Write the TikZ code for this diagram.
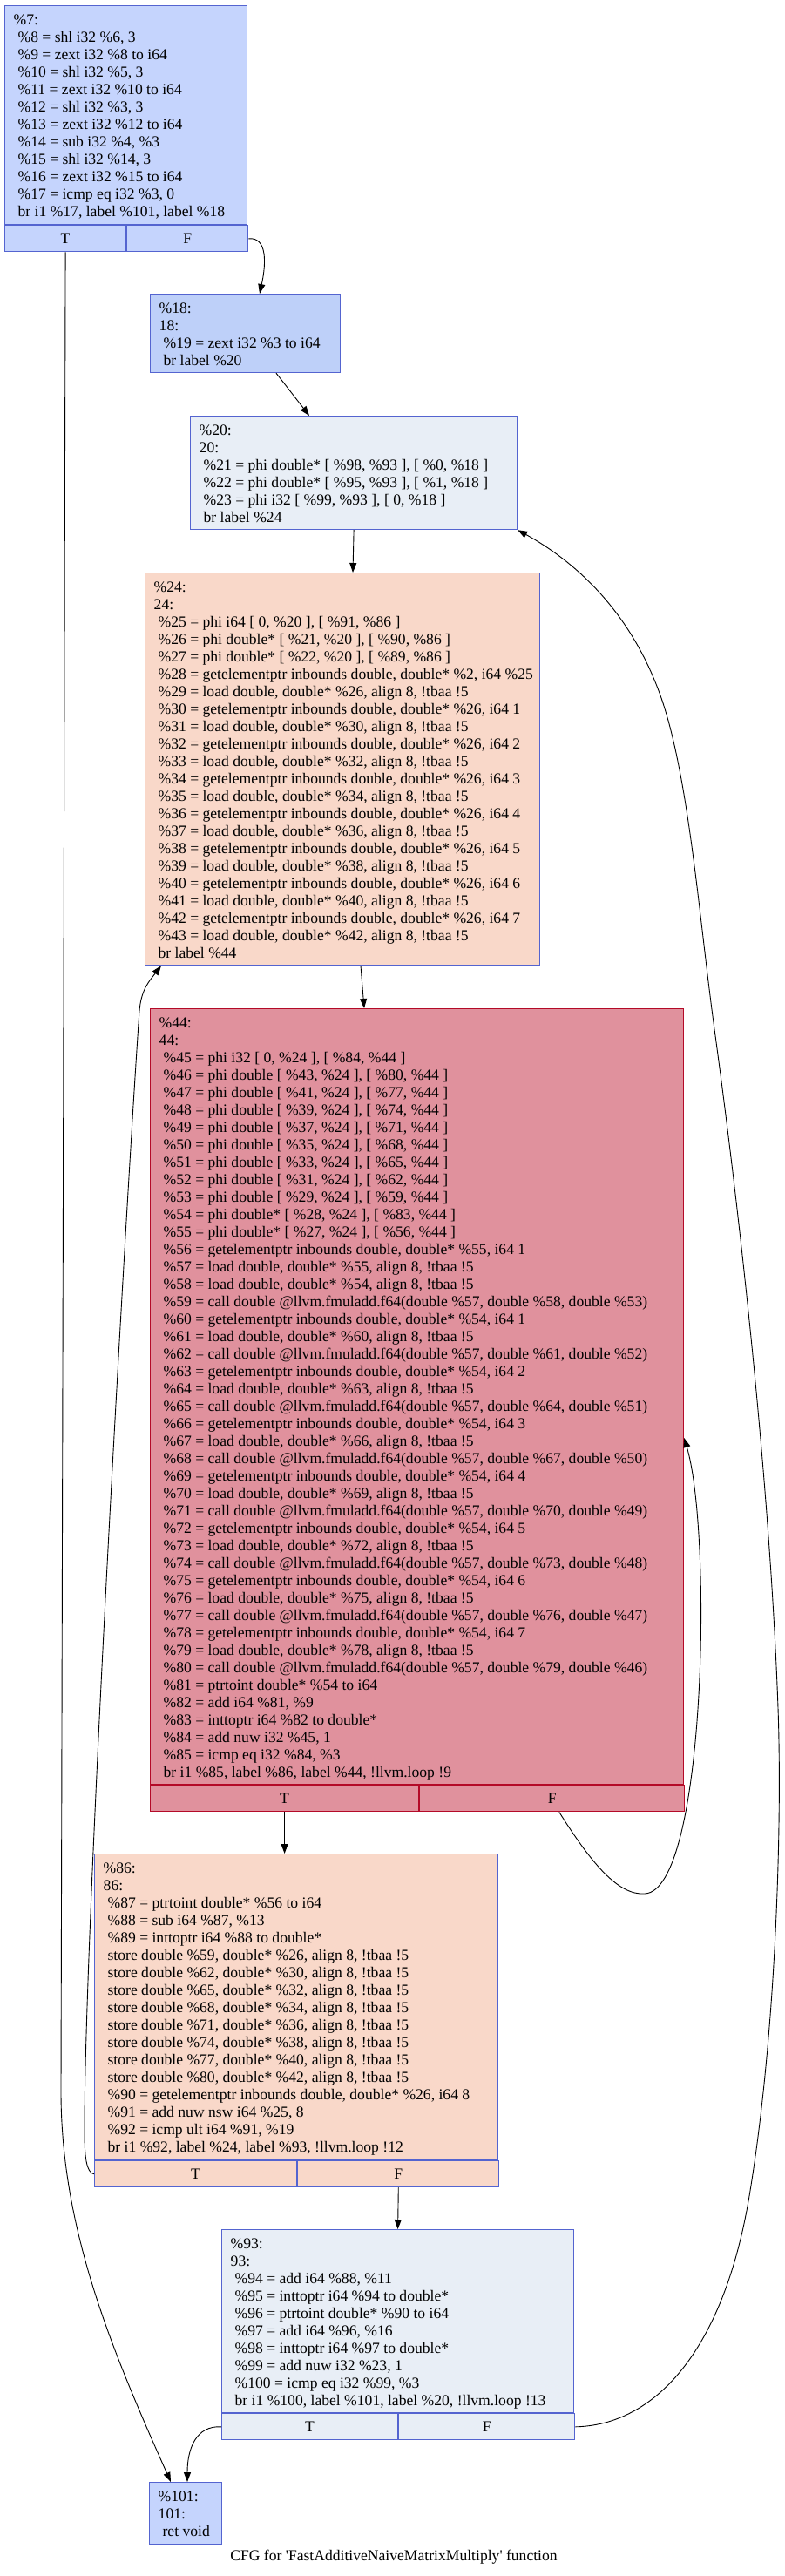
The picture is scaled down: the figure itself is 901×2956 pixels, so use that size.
\documentclass[tikz,border=0pt]{standalone}
\usepackage{fontspec}
\setmainfont{Liberation Serif}
\usepackage{tikz}
\usetikzlibrary{arrows.meta,calc}

\definecolor{coldblue}{RGB}{197,212,253}
\definecolor{coolblue}{RGB}{190,208,249}
\definecolor{paleblue}{RGB}{232,238,246}
\definecolor{peach}{RGB}{249,216,201}
\definecolor{hotrose}{RGB}{224,145,157}
\definecolor{lineblue}{RGB}{84,100,208}
\definecolor{linered}{RGB}{180,10,40}

\newcommand{\codefont}{\fontsize{17.6}{20}\selectfont}
\newcommand{\ind}{\hspace*{0.28em}}

\tikzset{
  block/.style={draw=lineblue, line width=1.2pt, inner sep=0pt, anchor=north west},
  code/.style={anchor=north west, inner sep=0pt, align=left, font=\codefont},
  cell/.style={block, minimum height=30pt, font=\codefont},
  edge/.style={line width=0.9pt, -{Triangle[length=11pt,width=8pt]}}
}

\begin{document}
\begin{tikzpicture}[x=1pt, y=-1pt]
	\useasboundingbox (0,0) rectangle (901,2956);

	% Boxes
	\node[block, fill=coldblue, minimum width=278pt, minimum height=251pt] (b7) at (5,6) {};
	\node[cell, fill=coldblue, minimum width=139pt] (b7T) at (b7.south west) {T};
	\node[cell, fill=coldblue, minimum width=139pt] (b7F) at (b7T.north east) {F};

	\node[block, fill=coolblue, minimum width=218pt, minimum height=90pt] (b18) at (172,337) {};
	\node[block, fill=paleblue, minimum width=375pt, minimum height=130pt] (b20) at (218,477) {};
	\node[block, fill=peach, minimum width=453pt, minimum height=450pt] (b24) at (166,657) {};

	\node[block, draw=linered, fill=hotrose, minimum width=612pt, minimum height=890pt] (b44) at (172,1157) {};
	\node[cell, draw=linered, fill=hotrose, minimum width=308pt] (b44T) at (b44.south west) {T};
	\node[cell, draw=linered, fill=hotrose, minimum width=304pt] (b44F) at (b44T.north east) {F};

	\node[block, fill=peach, minimum width=463pt, minimum height=351pt] (b86) at (108,2127) {};
	\node[cell, fill=peach, minimum width=232pt] (b86T) at (b86.south west) {T};
	\node[cell, fill=peach, minimum width=231pt] (b86F) at (b86T.north east) {F};

	\node[block, fill=paleblue, minimum width=404pt, minimum height=210pt] (b93) at (254,2558) {};
	\node[cell, fill=paleblue, minimum width=202pt] (b93T) at (b93.south west) {T};
	\node[cell, fill=paleblue, minimum width=202pt] (b93F) at (b93T.north east) {F};

	\node[block, fill=coldblue, minimum width=83pt, minimum height=71pt] (b101) at (171,2848) {};

	% code
	\node[code] (b7txt) at ($(b7.north west)+(10.5,10.2)$) {\%7:\\
		\ind\%8 = shl i32 \%6, 3\\
		\ind\%9 = zext i32 \%8 to i64\\
		\ind\%10 = shl i32 \%5, 3\\
		\ind\%11 = zext i32 \%10 to i64\\
		\ind\%12 = shl i32 \%3, 3\\
		\ind\%13 = zext i32 \%12 to i64\\
		\ind\%14 = sub i32 \%4, \%3\\
		\ind\%15 = shl i32 \%14, 3\\
		\ind\%16 = zext i32 \%15 to i64\\
		\ind\%17 = icmp eq i32 \%3, 0\\
		\ind br i1 \%17, label \%101, label \%18};

	\node[code] (b18txt) at ($(b18.north west)+(10.5,10.2)$) {\%18:\\
		18:\\
		\ind\%19 = zext i32 \%3 to i64\\
		\ind br label \%20};

	\node[code] (b20txt) at ($(b20.north west)+(10.5,10.2)$) {\%20:\\
		20:\\
		\ind\%21 = phi double* [ \%98, \%93 ], [ \%0, \%18 ]\\
		\ind\%22 = phi double* [ \%95, \%93 ], [ \%1, \%18 ]\\
		\ind\%23 = phi i32 [ \%99, \%93 ], [ 0, \%18 ]\\
		\ind br label \%24};

	\node[code] (b24txt) at ($(b24.north west)+(10.5,10.2)$) {\%24:\\
		24:\\
		\ind\%25 = phi i64 [ 0, \%20 ], [ \%91, \%86 ]\\
		\ind\%26 = phi double* [ \%21, \%20 ], [ \%90, \%86 ]\\
		\ind\%27 = phi double* [ \%22, \%20 ], [ \%89, \%86 ]\\
		\ind\%28 = getelementptr inbounds double, double* \%2, i64 \%25\\
		\ind\%29 = load double, double* \%26, align 8, !tbaa !5\\
		\ind\%30 = getelementptr inbounds double, double* \%26, i64 1\\
		\ind\%31 = load double, double* \%30, align 8, !tbaa !5\\
		\ind\%32 = getelementptr inbounds double, double* \%26, i64 2\\
		\ind\%33 = load double, double* \%32, align 8, !tbaa !5\\
		\ind\%34 = getelementptr inbounds double, double* \%26, i64 3\\
		\ind\%35 = load double, double* \%34, align 8, !tbaa !5\\
		\ind\%36 = getelementptr inbounds double, double* \%26, i64 4\\
		\ind\%37 = load double, double* \%36, align 8, !tbaa !5\\
		\ind\%38 = getelementptr inbounds double, double* \%26, i64 5\\
		\ind\%39 = load double, double* \%38, align 8, !tbaa !5\\
		\ind\%40 = getelementptr inbounds double, double* \%26, i64 6\\
		\ind\%41 = load double, double* \%40, align 8, !tbaa !5\\
		\ind\%42 = getelementptr inbounds double, double* \%26, i64 7\\
		\ind\%43 = load double, double* \%42, align 8, !tbaa !5\\
		\ind br label \%44};

	\node[code] (b44txt) at ($(b44.north west)+(10.5,10.2)$) {\%44:\\
		44:\\
		\ind\%45 = phi i32 [ 0, \%24 ], [ \%84, \%44 ]\\
		\ind\%46 = phi double [ \%43, \%24 ], [ \%80, \%44 ]\\
		\ind\%47 = phi double [ \%41, \%24 ], [ \%77, \%44 ]\\
		\ind\%48 = phi double [ \%39, \%24 ], [ \%74, \%44 ]\\
		\ind\%49 = phi double [ \%37, \%24 ], [ \%71, \%44 ]\\
		\ind\%50 = phi double [ \%35, \%24 ], [ \%68, \%44 ]\\
		\ind\%51 = phi double [ \%33, \%24 ], [ \%65, \%44 ]\\
		\ind\%52 = phi double [ \%31, \%24 ], [ \%62, \%44 ]\\
		\ind\%53 = phi double [ \%29, \%24 ], [ \%59, \%44 ]\\
		\ind\%54 = phi double* [ \%28, \%24 ], [ \%83, \%44 ]\\
		\ind\%55 = phi double* [ \%27, \%24 ], [ \%56, \%44 ]\\
		\ind\%56 = getelementptr inbounds double, double* \%55, i64 1\\
		\ind\%57 = load double, double* \%55, align 8, !tbaa !5\\
		\ind\%58 = load double, double* \%54, align 8, !tbaa !5\\
		\ind\%59 = call double @llvm.fmuladd.f64(double \%57, double \%58, double \%53)\\
		\ind\%60 = getelementptr inbounds double, double* \%54, i64 1\\
		\ind\%61 = load double, double* \%60, align 8, !tbaa !5\\
		\ind\%62 = call double @llvm.fmuladd.f64(double \%57, double \%61, double \%52)\\
		\ind\%63 = getelementptr inbounds double, double* \%54, i64 2\\
		\ind\%64 = load double, double* \%63, align 8, !tbaa !5\\
		\ind\%65 = call double @llvm.fmuladd.f64(double \%57, double \%64, double \%51)\\
		\ind\%66 = getelementptr inbounds double, double* \%54, i64 3\\
		\ind\%67 = load double, double* \%66, align 8, !tbaa !5\\
		\ind\%68 = call double @llvm.fmuladd.f64(double \%57, double \%67, double \%50)\\
		\ind\%69 = getelementptr inbounds double, double* \%54, i64 4\\
		\ind\%70 = load double, double* \%69, align 8, !tbaa !5\\
		\ind\%71 = call double @llvm.fmuladd.f64(double \%57, double \%70, double \%49)\\
		\ind\%72 = getelementptr inbounds double, double* \%54, i64 5\\
		\ind\%73 = load double, double* \%72, align 8, !tbaa !5\\
		\ind\%74 = call double @llvm.fmuladd.f64(double \%57, double \%73, double \%48)\\
		\ind\%75 = getelementptr inbounds double, double* \%54, i64 6\\
		\ind\%76 = load double, double* \%75, align 8, !tbaa !5\\
		\ind\%77 = call double @llvm.fmuladd.f64(double \%57, double \%76, double \%47)\\
		\ind\%78 = getelementptr inbounds double, double* \%54, i64 7\\
		\ind\%79 = load double, double* \%78, align 8, !tbaa !5\\
		\ind\%80 = call double @llvm.fmuladd.f64(double \%57, double \%79, double \%46)\\
		\ind\%81 = ptrtoint double* \%54 to i64\\
		\ind\%82 = add i64 \%81, \%9\\
		\ind\%83 = inttoptr i64 \%82 to double*\\
		\ind\%84 = add nuw i32 \%45, 1\\
		\ind\%85 = icmp eq i32 \%84, \%3\\
		\ind br i1 \%85, label \%86, label \%44, !llvm.loop !9};

	\node[code] (b86txt) at ($(b86.north west)+(10.5,10.2)$) {\%86:\\
		86:\\
		\ind\%87 = ptrtoint double* \%56 to i64\\
		\ind\%88 = sub i64 \%87, \%13\\
		\ind\%89 = inttoptr i64 \%88 to double*\\
		\ind store double \%59, double* \%26, align 8, !tbaa !5\\
		\ind store double \%62, double* \%30, align 8, !tbaa !5\\
		\ind store double \%65, double* \%32, align 8, !tbaa !5\\
		\ind store double \%68, double* \%34, align 8, !tbaa !5\\
		\ind store double \%71, double* \%36, align 8, !tbaa !5\\
		\ind store double \%74, double* \%38, align 8, !tbaa !5\\
		\ind store double \%77, double* \%40, align 8, !tbaa !5\\
		\ind store double \%80, double* \%42, align 8, !tbaa !5\\
		\ind\%90 = getelementptr inbounds double, double* \%26, i64 8\\
		\ind\%91 = add nuw nsw i64 \%25, 8\\
		\ind\%92 = icmp ult i64 \%91, \%19\\
		\ind br i1 \%92, label \%24, label \%93, !llvm.loop !12};

	\node[code] (b93txt) at ($(b93.north west)+(10.5,10.2)$) {\%93:\\
		93:\\
		\ind\%94 = add i64 \%88, \%11\\
		\ind\%95 = inttoptr i64 \%94 to double*\\
		\ind\%96 = ptrtoint double* \%90 to i64\\
		\ind\%97 = add i64 \%96, \%16\\
		\ind\%98 = inttoptr i64 \%97 to double*\\
		\ind\%99 = add nuw i32 \%23, 1\\
		\ind\%100 = icmp eq i32 \%99, \%3\\
		\ind br i1 \%100, label \%101, label \%20, !llvm.loop !13};

	\node[code] (b101txt) at ($(b101.north west)+(10.5,10.2)$) {\%101:\\
		101:\\
		\ind ret void};

	\node[font=\codefont] (title) at (452,2934) {CFG for \textquotesingle FastAdditiveNaiveMatrixMultiply\textquotesingle{} function};

	% edges
	\draw[edge] (b7T.south) -- (70,2400) .. controls (70,2560) and (130,2700) .. ($(b101.north west)+(25,0)$);
	\draw[edge] (b7F.east) .. controls (306,272) and (306,300) .. ($(b18.north west)+(126,0)$);
	\draw[edge] ($(b18.south west)+(145,0)$) -- ($(b20.north west)+(137,0)$);
	\draw[edge] (b20.south) -- ($(b24.north west)+(239,0)$);
	\draw[edge] ($(b24.south west)+(248,0)$) -- ($(b44.north west)+(246,0)$);
	\draw[edge] (b44T.south) -- (b44T.south |- b86.north);
	\draw[edge] ($(b44F.south)+(8,0)$) .. controls (680,2140) and (710,2175) .. (740,2173)
		.. controls (810,2170) and (818,1760) .. ($(b44.north east)+(0,493)$);
	\draw[edge] (b86T.west) .. controls (99,2493) and (97,2475) .. (97,2445)
		.. controls (97,2200) and (150,1300) .. (160,1160)
		.. controls (162,1135) and (172,1125) .. ($(b24.south west)+(19,0)$);
	\draw[edge] (b86F.south) -- (b93.north);
	\draw[edge] (b93T.west) .. controls (225,2783) and (215,2810) .. ($(b101.north west)+(44,0)$);
	\draw[edge] (b93F.east) .. controls (750,2783) and (830,2700) .. (860,2520)
		.. controls (890,2340) and (898,2100) .. (893,1960)
		.. controls (884,1710) and (850,1400) .. (820,1181)
		.. controls (802,1050) and (790,880) .. (755,790)
		.. controls (724,709) and (670,650) .. (b20.south east);
\end{tikzpicture}
\end{document}
